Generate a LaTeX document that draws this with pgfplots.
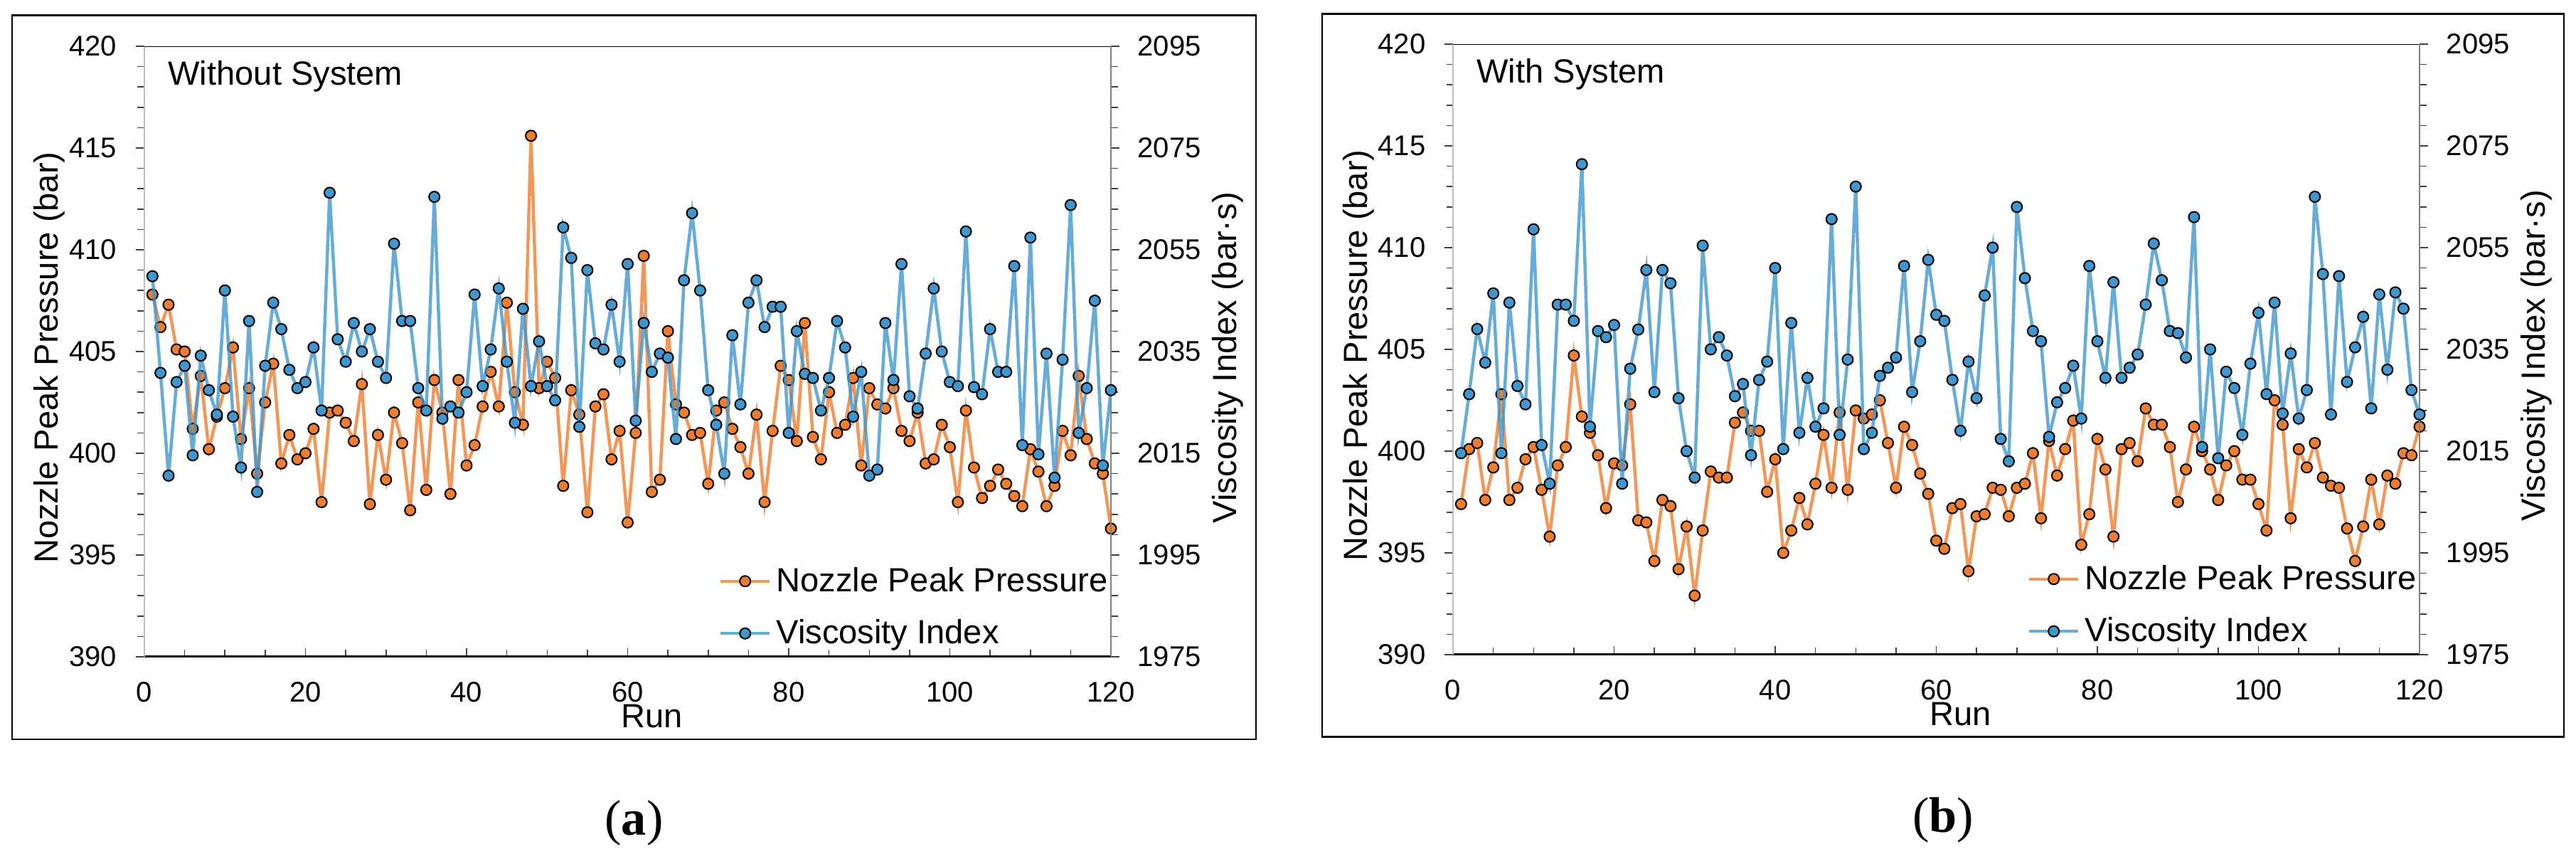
\documentclass[border=0pt]{standalone}
\usepackage{fontspec}
\setmainfont{Liberation Sans}
\newfontfamily\capfont{Liberation Serif}
\usepackage{pgfplots}
\usepackage{pgfplotstable}
\pgfplotsset{compat=1.18}

\definecolor{npp}{RGB}{237,125,49}
\definecolor{vis}{RGB}{65,150,205}

\newcommand{\ticksz}{\fontsize{11.4}{13.7}\selectfont}
\newcommand{\textsz}{\fontsize{13.4}{16}\selectfont}

% run, nozzle peak pressure (bar), viscosity index (bar s)
\pgfplotstableread{
run npp vi
1 407.8 2049.8
2 406.2 2030.8
3 407.3 2010.6
4 405.1 2029.0
5 405.0 2032.2
6 401.2 2014.6
7 403.8 2034.2
8 400.2 2027.4
9 401.8 2022.6
10 403.2 2047.0
11 405.2 2022.2
12 400.7 2012.2
13 403.2 2041.0
14 399.0 2007.4
15 402.5 2032.2
16 404.4 2044.6
17 399.5 2039.4
18 400.9 2031.4
19 399.7 2027.8
20 400.0 2029.0
21 401.2 2035.8
22 397.6 2023.4
23 402.0 2066.2
24 402.1 2037.4
25 401.5 2033.0
26 400.6 2040.6
27 403.4 2035.0
28 397.5 2039.4
29 400.9 2033.0
30 398.7 2029.8
31 402.0 2056.2
32 400.5 2041.0
33 397.2 2041.0
34 402.5 2027.8
35 398.2 2023.4
36 403.6 2065.4
37 402.0 2021.8
38 398.0 2024.2
39 403.6 2023.0
40 399.4 2027.0
41 400.4 2046.2
42 402.3 2028.2
43 404.0 2035.4
44 402.3 2047.4
45 407.4 2033.0
46 403.0 2021.0
47 401.4 2043.4
48 415.6 2028.2
49 403.2 2037.0
50 404.5 2028.2
51 403.7 2025.4
52 398.4 2059.4
53 403.1 2053.4
54 401.9 2020.2
55 397.1 2051.0
56 402.3 2036.6
57 402.9 2035.4
58 399.7 2044.2
59 401.1 2033.0
60 396.6 2052.2
61 401.0 2021.4
62 409.7 2040.6
63 398.1 2031.0
64 398.7 2034.6
65 406.0 2033.8
66 402.4 2017.8
67 402.0 2049.0
68 400.9 2062.2
69 401.0 2047.0
70 398.5 2027.4
71 402.1 2020.6
72 402.5 2011.0
73 401.2 2038.2
74 400.3 2024.6
75 399.0 2044.6
76 401.9 2049.0
77 397.6 2039.8
78 401.1 2043.8
79 404.3 2043.8
80 403.6 2019.0
81 400.6 2039.0
82 406.4 2030.6
83 400.8 2029.8
84 399.7 2023.4
85 403.0 2029.8
86 401.0 2041.0
87 401.4 2035.8
88 403.7 2022.2
89 399.4 2031.0
90 403.2 2010.6
91 402.4 2011.8
92 402.2 2040.6
93 403.2 2029.4
94 401.1 2052.2
95 400.6 2026.2
96 402.0 2023.8
97 399.5 2034.6
98 399.7 2047.4
99 401.4 2035.0
100 400.3 2029.0
101 397.6 2028.2
102 402.1 2058.6
103 399.3 2028.0
104 397.8 2026.6
105 398.4 2039.4
106 399.2 2031.0
107 398.5 2031.0
108 397.9 2051.8
109 397.4 2016.6
110 400.2 2057.4
111 399.1 2014.8
112 397.4 2034.6
113 398.4 2010.2
114 401.1 2033.4
115 399.9 2063.8
116 403.8 2019.0
117 400.7 2027.8
118 399.5 2045.0
119 399.0 2012.6
120 396.3 2027.4
}\withoutsys

\pgfplotstableread{
run npp vi
1 397.4 2014.6
2 400.1 2026.2
3 400.4 2039.0
4 397.6 2032.4
5 399.2 2046.0
6 402.8 2014.6
7 397.6 2044.2
8 398.2 2027.8
9 399.6 2024.2
10 400.2 2058.6
11 398.1 2016.2
12 395.8 2008.6
13 399.3 2043.8
14 400.2 2043.8
15 404.7 2040.6
16 401.7 2071.4
17 400.9 2019.8
18 399.8 2038.6
19 397.2 2037.4
20 399.4 2039.8
21 399.3 2008.6
22 402.3 2031.2
23 396.6 2038.9
24 396.5 2050.6
25 394.6 2026.6
26 397.6 2050.6
27 397.3 2048.0
28 394.2 2025.4
29 396.3 2015.0
30 392.9 2009.8
31 396.1 2055.4
32 399.0 2035.0
33 398.7 2037.4
34 398.7 2033.8
35 401.4 2025.8
36 401.9 2028.2
37 401.0 2014.2
38 401.0 2029.0
39 398.0 2032.6
40 399.6 2051.0
41 395.0 2015.4
42 396.1 2040.2
43 397.7 2018.6
44 396.4 2029.4
45 398.4 2019.8
46 400.8 2023.4
47 398.2 2060.6
48 401.9 2018.2
49 398.1 2033.0
50 402.0 2067.0
51 401.6 2015.4
52 401.8 2018.6
53 402.5 2029.8
54 400.4 2031.4
55 398.2 2033.4
56 401.2 2051.4
57 400.3 2026.6
58 398.9 2036.6
59 397.9 2052.6
60 395.6 2041.8
61 395.2 2040.6
62 397.2 2029.0
63 397.4 2019.0
64 394.1 2032.6
65 396.8 2025.4
66 396.9 2045.6
67 398.2 2055.0
68 398.1 2017.4
69 396.8 2013.0
70 398.2 2063.0
71 398.4 2049.0
72 399.9 2038.6
73 396.7 2036.6
74 400.5 2017.8
75 398.8 2024.6
76 400.1 2027.4
77 401.5 2031.8
78 395.4 2021.4
79 396.9 2051.4
80 400.6 2036.6
81 399.1 2029.4
82 395.8 2048.2
83 400.1 2029.4
84 400.4 2031.4
85 399.5 2034.0
86 402.1 2043.8
87 401.3 2055.8
88 401.3 2048.6
89 400.2 2038.6
90 397.5 2038.2
91 399.1 2033.4
92 401.2 2061.0
93 400.0 2015.8
94 399.1 2035.0
95 397.6 2013.6
96 399.3 2030.6
97 400.0 2027.4
98 398.6 2018.2
99 398.6 2032.2
100 397.4 2042.2
101 396.1 2026.2
102 402.5 2044.2
103 401.3 2022.4
104 396.7 2034.2
105 400.1 2021.4
106 399.2 2027.0
107 400.4 2065.0
108 398.7 2049.8
109 398.3 2022.2
110 398.2 2049.4
111 396.2 2028.6
112 394.6 2035.4
113 396.3 2041.4
114 398.6 2023.4
115 396.4 2045.8
116 398.8 2031.0
117 398.4 2046.2
118 399.9 2043.0
119 399.8 2027.0
120 401.2 2022.2
}\withsys

\pgfplotsset{
    panel/.style={
        scale only axis,
        width=135.9mm, height=85.8mm,
        xmin=0, xmax=120,
        /pgf/number format/assume math mode=true,
        /pgf/number format/1000 sep={},
        tick label style={font=\ticksz},
        label style={font=\textsz},
        major tick length=1.2mm,
        minor tick length=0.95mm,
        every tick/.style={black!75, line width=0.15mm},
    },
    pressure axis/.style={
        panel,
        ymin=390, ymax=420,
        ytick={390,395,...,420}, minor y tick num=4,
        xtick={0,20,...,120}, minor x tick num=3,
        axis x line*=bottom, axis y line*=left,
        xtick align=inside, ytick align=outside,
        x axis line style={black, line width=0.3mm},
        y axis line style={black!25, line width=0.25mm},
        yticklabel style={inner sep=0pt, xshift=-2.6mm},
        xticklabel style={inner sep=0pt, yshift=-3.5mm},
        xlabel={Run},
        ylabel={Nozzle Peak Pressure (bar)},
        xlabel style={at={(axis description cs:0.525,-0.097)}, anchor=center},
        ylabel style={at={(axis description cs:-0.098,0.49)}, anchor=center},
    },
    viscosity axis/.style={
        panel,
        ymin=1975, ymax=2095,
        ytick={1975,1995,...,2095}, minor y tick num=4,
        axis x line=none, axis y line*=right,
        ytick align=outside,
        y axis line style={black!50, line width=0.25mm},
        yticklabel style={inner sep=0pt, xshift=2.5mm},
        ylabel={Viscosity Index (bar·s)},
        ylabel style={at={(axis description cs:1.121,0.49)}, anchor=center},
        legend style={
            at={(axis description cs:0.594,0.081)}, anchor=west,
            draw=none, fill=none, inner sep=0pt,
            font=\textsz, row sep=2.0mm,
        },
        legend cell align=left,
        legend image code/.code={
            \draw[mark repeat=2, mark phase=2, #1]
                plot coordinates {(0mm,0mm) (3.45mm,0mm) (6.9mm,0mm)};
        },
    },
    npp line/.style={
        color=npp, draw opacity=0.8, line width=0.45mm,
        mark=*, mark size=0.75mm,
        mark options={draw=black, fill=npp, line width=0.2mm, opacity=1},
    },
    vis line/.style={
        color=vis, draw opacity=0.8, line width=0.45mm,
        mark=*, mark size=0.75mm,
        mark options={draw=black, fill=vis, line width=0.2mm, opacity=1},
    },
}

\begin{document}
\begin{tikzpicture}
    \useasboundingbox (0,0) rectangle (362.2mm,120.9mm);

    % frames and captions
    \draw[line width=0.25mm] (1.7mm,17.0mm) rectangle (176.6mm,118.74mm);
    \draw[line width=0.25mm] (185.9mm,17.35mm) rectangle (360.5mm,118.97mm);
    \node[font=\capfont\fontsize{20}{24}\selectfont] at (89.15mm,5.2mm) {(\textbf{a})};
    \node[font=\capfont\fontsize{20}{24}\selectfont] at (273.2mm,5.6mm) {(\textbf{b})};

    % (a) without system
    \begin{axis}[pressure axis, at={(20.3mm,28.6mm)}, anchor=south west]
        \addplot[npp line] table[x=run, y=npp] {\withoutsys};
        \draw[black, line width=0.2mm] (rel axis cs:0,1) -- (rel axis cs:1,1);
        \node[anchor=base west, font=\textsz] at (rel axis cs:0.0155,0.937) {Without System};
    \end{axis}
    \begin{axis}[viscosity axis, at={(20.3mm,28.6mm)}, anchor=south west]
        \addlegendimage{npp line}
        \addlegendentry{Nozzle Peak Pressure}
        \addplot[vis line] table[x=run, y=vi] {\withoutsys};
        \addlegendentry{Viscosity Index}
    \end{axis}

    % (b) with system
    \begin{axis}[pressure axis, at={(204.3mm,28.9mm)}, anchor=south west]
        \addplot[npp line] table[x=run, y=npp] {\withsys};
        \draw[black, line width=0.2mm] (rel axis cs:0,1) -- (rel axis cs:1,1);
        \node[anchor=base west, font=\textsz] at (rel axis cs:0.0155,0.937) {With System};
    \end{axis}
    \begin{axis}[viscosity axis, at={(204.3mm,28.9mm)}, anchor=south west]
        \addlegendimage{npp line}
        \addlegendentry{Nozzle Peak Pressure}
        \addplot[vis line] table[x=run, y=vi] {\withsys};
        \addlegendentry{Viscosity Index}
    \end{axis}
\end{tikzpicture}
\end{document}
